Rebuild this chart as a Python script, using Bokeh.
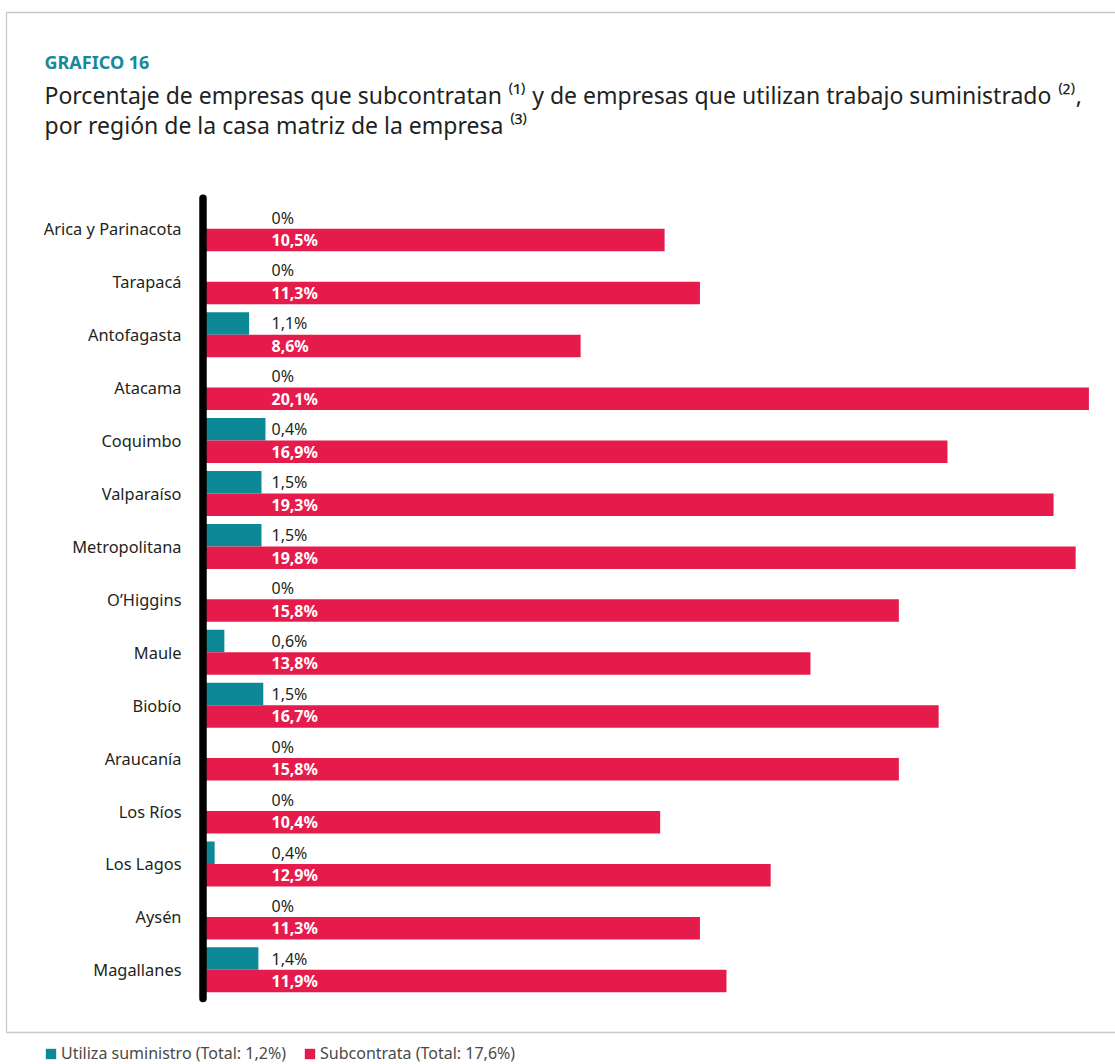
from bokeh.plotting import figure
from bokeh.models import (ColumnDataSource, Range1d, Label, Legend, LegendItem,
                          BoxAnnotation)
from bokeh.core.properties import value
from bokeh.embed import file_html
from bokeh.resources import INLINE

# ---------------- data ----------------
regions = ["Arica y Parinacota", "Tarapacá", "Antofagasta", "Atacama", "Coquimbo",
           "Valparaíso", "Metropolitana", "O’Higgins", "Maule", "Biobío",
           "Araucanía", "Los Ríos", "Los Lagos", "Aysén", "Magallanes"]
# bar lengths as drawn in the original (percent)
suministro = [0, 0, 1.1, 0, 1.47, 1.38, 1.38, 0, 0.54, 1.42, 0, 0, 0.32, 0, 1.31]
# labels as printed in the original
suministro_labels = ["0%", "0%", "1,1%", "0%", "0,4%", "1,5%", "1,5%", "0%", "0,6%",
                     "1,5%", "0%", "0%", "0,4%", "0%", "1,4%"]
subcontrata = [10.5, 11.3, 8.6, 20.1, 16.9, 19.3, 19.8, 15.8, 13.8, 16.7,
               15.8, 10.4, 12.9, 11.3, 11.9]
total_suministro = "1,2%"
total_subcontrata = "17,6%"

title_kicker = "GRAFICO 16"
title_line1 = ("Porcentaje de empresas que subcontratan \u207d\u00b9\u207e y de empresas "
               "que utilizan trabajo suministrado \u207d\u00b2\u207e,")
title_line2 = "por región de la casa matriz de la empresa \u207d\u00b3\u207e"

# ---------------- layout constants (pixels) ----------------
W, H = 1115, 1064
ZERO_PX = 200.0      # pixel x of value 0
PX_PER_PCT = 44.2    # pixels per percentage point
ROW0_PX = 228.3      # pixel y of first category center
ROW_PX = 52.93       # pixel distance between categories
BAR_H = 22.5 / ROW_PX

TEAL = "#0c8896"
RED = "#e51c4b"
TEXT = "#231f20"
FONT = "Noto Sans"

idx = list(range(len(regions)))
src = ColumnDataSource(dict(
    region=regions,
    y_teal=[i - BAR_H / 2 for i in idx],
    y_red=[i + BAR_H / 2 for i in idx],
    y_mid=idx,
    suministro=suministro,
    subcontrata=subcontrata,
    sum_label=suministro_labels,
    sub_label=[("%.1f" % v).replace(".", ",") + "%" for v in subcontrata],
))

p = figure(width=W, height=H, output_backend="svg", toolbar_location=None,
           min_border=0, x_axis_location=None, y_axis_location=None,
           x_range=Range1d(-ZERO_PX / PX_PER_PCT, (W - ZERO_PX) / PX_PER_PCT),
           y_range=Range1d((H - ROW0_PX) / ROW_PX, -ROW0_PX / ROW_PX))
p.outline_line_color = None
p.grid.visible = False
p.background_fill_color = "white"
p.border_fill_color = "white"

r_teal = p.hbar(y="y_teal", left=0, right="suministro", height=BAR_H, source=src,
                fill_color=TEAL, line_color=None)
r_red = p.hbar(y="y_red", left=0, right="subcontrata", height=BAR_H, source=src,
               fill_color=RED, line_color=None)

# value labels
LABEL_X = (271 - ZERO_PX) / PX_PER_PCT
p.text(x=LABEL_X, y="y_teal", text="sum_label", source=src,
       text_font=value(FONT), text_font_size="16px", text_color=TEXT,
       text_baseline="middle", text_align="left")
p.text(x=LABEL_X, y="y_red", text="sub_label", source=src,
       text_font=value(FONT), text_font_size="16px", text_font_style="bold",
       text_color="white", text_baseline="middle", text_align="left")

# category labels
p.text(x=(181 - ZERO_PX) / PX_PER_PCT, y="y_mid", text="region", source=src,
       text_font=value(FONT), text_font_size="16.4px", text_color=TEXT,
       text_baseline="middle", text_align="right")

# vertical axis bar
p.segment(x0=[(202.5 - ZERO_PX) / PX_PER_PCT], x1=[(202.5 - ZERO_PX) / PX_PER_PCT],
          y0=[(197.8 - ROW0_PX) / ROW_PX], y1=[(998 - ROW0_PX) / ROW_PX],
          line_color="black", line_width=7.5, line_cap="round")

# frame box
p.add_layout(BoxAnnotation(left=6, right=W + 50, top=H - 12, bottom=H - 1032,
                           left_units="screen", right_units="screen",
                           top_units="screen", bottom_units="screen",
                           fill_color=None, fill_alpha=0,
                           line_color="#4d4d4d", line_width=1.3))

# titles
p.add_layout(Label(x=44, y=H - 73, x_units="screen", y_units="screen",
                   text=title_kicker, text_font=FONT, text_font_size="18px",
                   text_font_style="bold", text_color="#17899a"))
p.add_layout(Label(x=44, y=H - 110, x_units="screen", y_units="screen",
                   text=title_line1, text_font=FONT, text_font_size="23px",
                   text_color=TEXT))
p.add_layout(Label(x=44, y=H - 140, x_units="screen", y_units="screen",
                   text=title_line2, text_font=FONT, text_font_size="23px",
                   text_color=TEXT))

legend = Legend(items=[
    LegendItem(label="Utiliza suministro (Total: %s)" % total_suministro, renderers=[r_teal]),
    LegendItem(label="Subcontrata (Total: %s)" % total_subcontrata, renderers=[r_red]),
], location=(44, 0), orientation="horizontal",
    label_text_font=FONT, label_text_font_size="16px", label_text_color="#4a4a4a",
    glyph_width=13, glyph_height=13, label_standoff=4, spacing=17,
    padding=0, margin=0, border_line_color=None, background_fill_alpha=0)
p.add_layout(legend)

open("out.html", "w").write(file_html(p, INLINE))
